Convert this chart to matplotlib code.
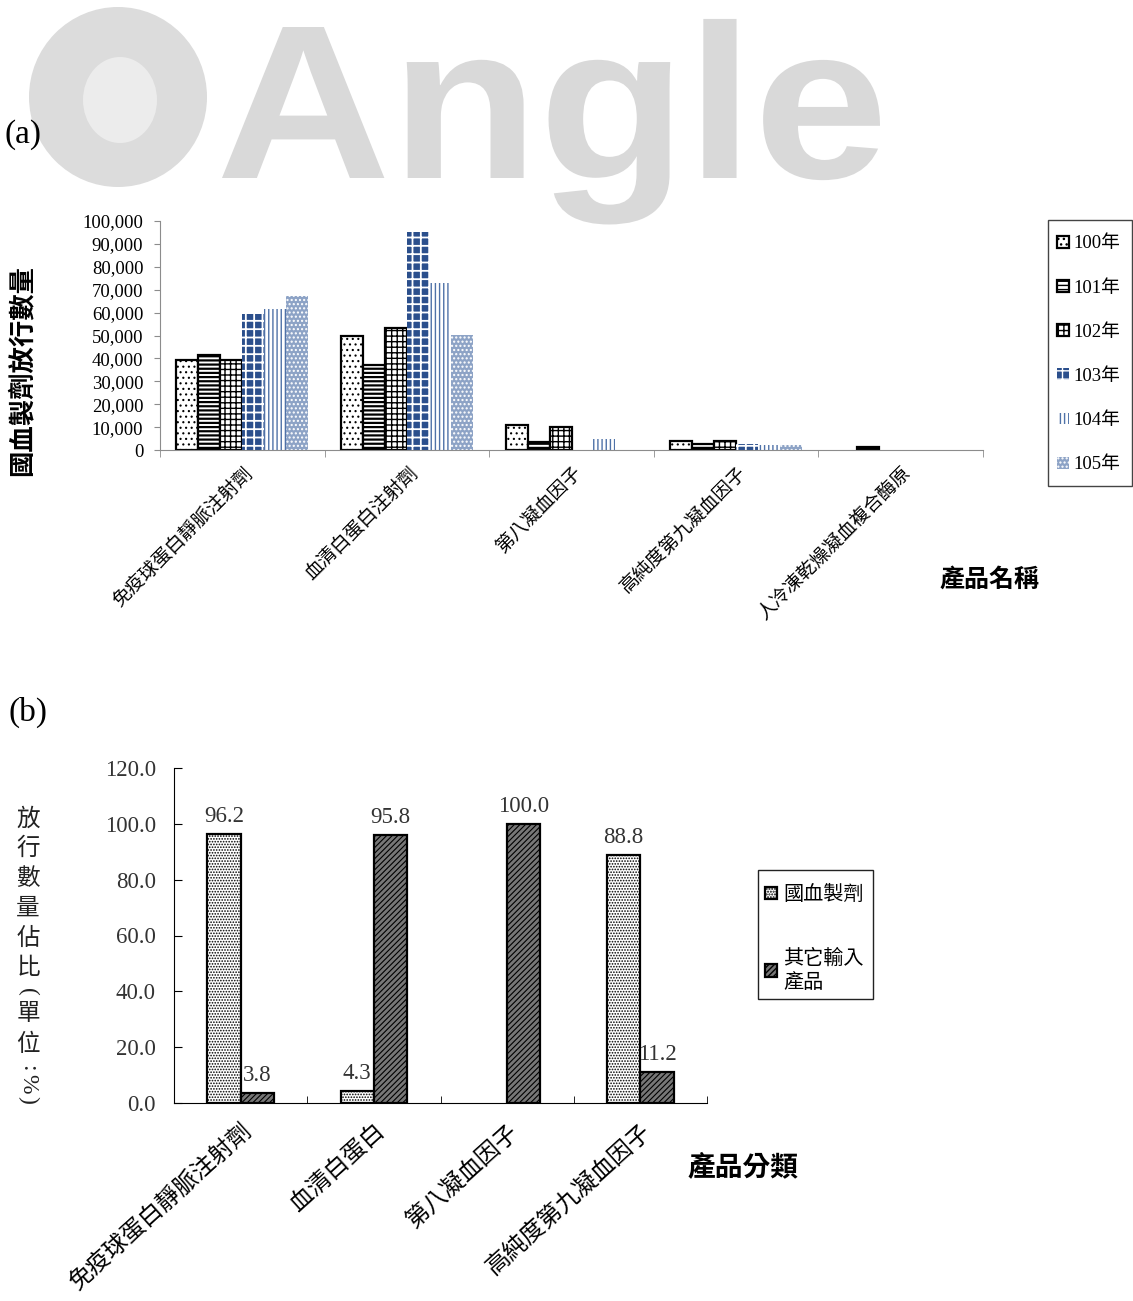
import matplotlib
matplotlib.use('Agg')
import matplotlib.pyplot as plt
import numpy as np
from matplotlib.patches import Ellipse, PathPatch, Patch, Rectangle
from matplotlib.textpath import TextPath
from matplotlib.font_manager import FontProperties
from matplotlib.transforms import Affine2D

W, H = 1133, 1301
CJK = 'Noto Sans CJK TC'
MIX = ['Liberation Serif', 'Noto Sans CJK TC']

# ---------- data (a): release quantity per year ----------
products_a = ['免疫球蛋白靜脈注射劑', '血清白蛋白注射劑', '第八凝血因子',
              '高純度第九凝血因子', '人冷凍乾燥凝血複合酶原']
years = ['100年', '101年', '102年', '103年', '104年', '105年']
release_100 = [39500, 49700, 11000, 3900, 0]
release_101 = [41600, 37000, 3500, 2600, 1300]
release_102 = [39200, 53400, 10200, 3900, 0]
release_103 = [59500, 95000, 0, 2600, 0]
release_104 = [61500, 73000, 4900, 2200, 0]
release_105 = [67200, 50200, 0, 2300, 0]

# ---------- data (b): share of release quantity (%) ----------
products_b = ['免疫球蛋白靜脈注射劑', '血清白蛋白', '第八凝血因子', '高純度第九凝血因子']
series_b = ['國血製劑', '其它輸入\n產品']
share_domestic = [96.2, 4.3, 0.0, 88.8]
share_import = [3.8, 95.8, 100.0, 11.2]

styles_a = [
    dict(facecolor='white', edgecolor='black', hatch='...', linewidth=1.6),
    dict(facecolor='white', edgecolor='black', hatch='----', linewidth=1.6),
    dict(facecolor='white', edgecolor='black', hatch='+++', linewidth=1.6),
    dict(facecolor='#2b4f8c', edgecolor='white', hatch='++', linewidth=0),
    dict(facecolor='white', edgecolor='#4f72a8', hatch='||||', linewidth=0),
    dict(facecolor='#8da3c6', edgecolor='white', hatch='....', linewidth=0),
]
hatch_lw_a = [0.8, 1.6, 1.0, 1.3, 1.0, 1.0]
styles_b = [
    dict(facecolor='white', edgecolor='black', hatch='......', linewidth=1.6),
    dict(facecolor='#777777', edgecolor='black', hatch='//////', linewidth=1.6),
]


def set_hlw(patch, lw):
    try:
        patch.set_hatch_linewidth(lw)
    except AttributeError:
        pass


def nz(vals):
    # empty cells are not drawn
    return [v if v else np.nan for v in vals]


fig = plt.figure(figsize=(W / 100, H / 100), dpi=100)

# background layer in pixel coordinates (watermark, panel letters, legend frames)
bg = fig.add_axes([0, 0, 1, 1], zorder=-10)
bg.set_xlim(0, W)
bg.set_ylim(H, 0)
bg.axis('off')

fp = FontProperties(family='Liberation Sans', weight='bold')
tp = TextPath((0, 0), 'Angle', size=100, prop=fp)
cap = TextPath((0, 0), 'A', size=100, prop=fp).get_extents()
ext = tp.get_extents()
tr = Affine2D().translate(-ext.x0, 0).scale((880 - 222) / ext.width, -151 / cap.height).translate(222, 178)
bg.add_patch(PathPatch(tp, transform=tr + bg.transData, facecolor='#d9d9d9', edgecolor='none'))
bg.add_patch(Ellipse((118, 97), 178, 180, facecolor='#dcdcdc', edgecolor='none'))
bg.add_patch(Ellipse((120, 100), 74, 86, facecolor='#ececec', edgecolor='none'))

bg.text(4, 135, '(a)', fontsize=24, family='Liberation Serif', va='center', ha='left')
bg.text(9, 712, '(b)', fontsize=24, family='Liberation Serif', va='center', ha='left')

# ---------- panel (a) ----------
ax1 = fig.add_axes([160 / W, 1 - 450 / H, 823 / W, 229 / H])
ax1.set_facecolor('none')
x = np.arange(len(products_a))
w = 0.8 / 6
data_a = [release_100, release_101, release_102, release_103, release_104, release_105]
for i, vals in enumerate(data_a):
    bars = ax1.bar(x + (i - 2.5) * w, nz(vals), w, **styles_a[i])
    for b in bars:
        set_hlw(b, hatch_lw_a[i])

ax1.set_xlim(-0.5, len(products_a) - 0.5)
ax1.set_ylim(0, 100000)
ax1.set_yticks(np.arange(0, 100001, 10000))
ax1.set_yticklabels([f'{v:,}' for v in range(0, 100001, 10000)], family='Liberation Serif', fontsize=13.5)
ax1.set_xticks(x)
ax1.set_xticklabels(products_a, rotation=45, ha='right', rotation_mode='anchor', family=CJK, fontsize=13.6)
ax1.set_xticks(np.arange(-0.5, len(products_a)), minor=True)
ax1.tick_params(axis='x', which='major', length=0, pad=9)
ax1.tick_params(axis='x', which='minor', length=5, color='#8c8c8c', direction='out')
ax1.tick_params(axis='y', length=4.5, color='#8c8c8c', pad=7.5, direction='out')
for s in ['top', 'right']:
    ax1.spines[s].set_visible(False)
for s in ['left', 'bottom']:
    ax1.spines[s].set_color('#8c8c8c')

handles_a = [Patch(**st) for st in styles_a]
fig.legend(handles_a, years, loc='upper left', bbox_to_anchor=(1048 / W, 1 - 226 / H),
           frameon=False, prop=FontProperties(family=MIX, size=13.5),
           handlelength=0.6, handleheight=0.6, handletextpad=0.25, labelspacing=1.45,
           borderpad=0.5, borderaxespad=0)
bg.add_patch(Rectangle((1048, 220), 84, 266, fill=False, edgecolor='#444444', linewidth=1.0))

fig.text(22 / W, 1 - 370 / H, '國血製劑放行數量', rotation=90, family=CJK, fontweight='bold',
         fontsize=19, ha='center', va='center')
fig.text(990 / W, 1 - 580 / H, '產品名稱', family=CJK, fontweight='bold', fontsize=18,
         ha='center', va='center')

# ---------- panel (b) ----------
ax2 = fig.add_axes([174 / W, 1 - 1103.3 / H, 533 / W, 335.6 / H])
ax2.set_facecolor('none')
xb = np.arange(len(products_b))
wb = 0.25
for i, vals in enumerate([share_domestic, share_import]):
    bars = ax2.bar(xb + (i - 0.5) * wb, nz(vals), wb, zorder=3, **styles_b[i])
    for b in bars:
        set_hlw(b, 0.8)
    for xi, v in zip(xb + (i - 0.5) * wb, vals):
        if v > 0:
            ax2.annotate(f'{v:.1f}', (xi, v), xytext=(0, 5), textcoords='offset points',
                         ha='center', va='bottom', family='Liberation Serif', fontsize=16.5,
                         color='#333333', zorder=1)

ax2.set_xlim(-0.5, len(products_b) - 0.5)
ax2.set_ylim(0, 120)
ax2.set_yticks(np.arange(0, 121, 20))
ax2.set_yticklabels([f'{v:.1f}' for v in range(0, 121, 20)], family='Liberation Serif', fontsize=16.5,
                    color='#333333')
ax2.set_xticks(xb)
ax2.set_xticklabels(products_b, rotation=42, ha='right', rotation_mode='anchor', family=CJK, fontsize=17)
ax2.set_xticks(np.arange(-0.5, len(products_b)), minor=True)
ax2.tick_params(axis='x', which='major', length=0, pad=12)
ax2.tick_params(axis='x', which='minor', length=5, direction='in')
ax2.tick_params(axis='y', length=6, direction='in', pad=13)
for s in ['top', 'right']:
    ax2.spines[s].set_visible(False)

handles_b = [Patch(**st) for st in styles_b]
fig.legend(handles_b, series_b, loc='upper left', bbox_to_anchor=(758 / W, 1 - 877 / H),
           frameon=False, prop=FontProperties(family=CJK, size=14.5),
           handlelength=0.6, handleheight=0.6, handletextpad=0.3, labelspacing=2.1,
           borderpad=0.35, borderaxespad=0)
bg.add_patch(Rectangle((758, 870), 115, 129, fill=False, edgecolor='#222222', linewidth=1.0))

# vertical y label of (b): upright characters, rotated punctuation
ylabel_b = '放行數量佔比(單位:%)'
yy = 804
prev = None
for ch in ylabel_b:
    half = 8 if ch in '():%' else 15
    yy += (prev if prev is not None else 0) + half
    prev = half
    bg.text(28, yy, ch, family=MIX, fontsize=17, ha='center', va='center',
            rotation=-90 if ch in '():%' else 0, color='#222222')

fig.text(743 / W, 1 - 1167 / H, '產品分類', family=CJK, fontweight='bold', fontsize=20,
         ha='center', va='center')

fig.savefig('out.png', dpi=100)
